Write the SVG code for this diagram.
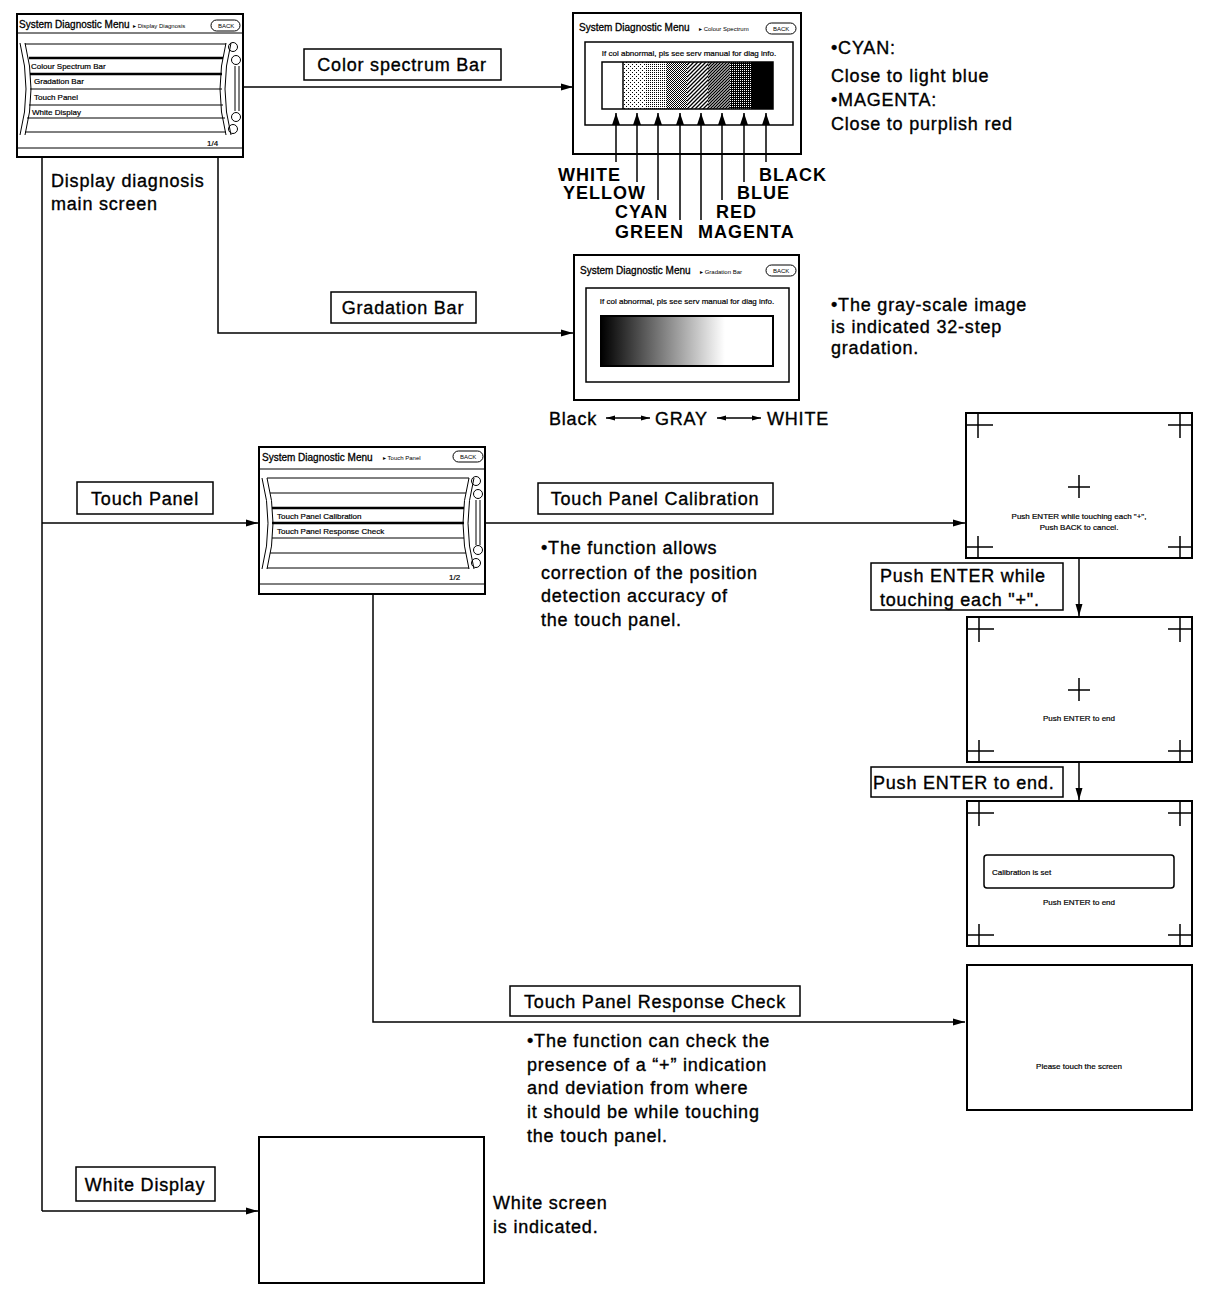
<svg xmlns="http://www.w3.org/2000/svg" width="1216" height="1298" viewBox="0 0 1216 1298">
<style>
.t{font-family:"Liberation Sans",Arial,sans-serif;font-size:18px;letter-spacing:0.8px;fill:#000;stroke:#000;stroke-width:0.35px}
.b{font-family:"Liberation Sans",Arial,sans-serif;font-size:18px;font-weight:bold;letter-spacing:1px;fill:#000}
.s{font-family:"Liberation Sans",Arial,sans-serif;font-size:8px;fill:#000;stroke:#000;stroke-width:0.2px}
.ttl{font-family:"Liberation Sans",Arial,sans-serif;font-size:10px;fill:#000;stroke:#000;stroke-width:0.3px}
.tiny{font-family:"Liberation Sans",Arial,sans-serif;font-size:6px;fill:#000}
.box{fill:#fff;stroke:#000;stroke-width:1.5}
.scr{fill:#fff;stroke:#000;stroke-width:2}
.ln{stroke:#000;stroke-width:1.5;fill:none}
.thin{stroke:#000;stroke-width:1;fill:none}
.thick{stroke:#000;stroke-width:2.5;fill:none}
.cr{stroke:#000;stroke-width:1.5}
</style>
<defs>
<marker id="ah" markerWidth="12" markerHeight="8" refX="12" refY="4" orient="auto" markerUnits="userSpaceOnUse"><path d="M0,0.5 L12,4 L0,7.5 Z" fill="#000"/></marker>
<marker id="up" markerWidth="12" markerHeight="8" refX="12" refY="4" orient="auto" markerUnits="userSpaceOnUse"><path d="M0,0 L12,4 L0,8 Z" fill="#000"/></marker>
<marker id="sm" markerWidth="9" markerHeight="6" refX="9" refY="3" orient="auto" markerUnits="userSpaceOnUse"><path d="M0,0.5 L9,3 L0,5.5 Z" fill="#000"/></marker>
<marker id="smr" markerWidth="9" markerHeight="6" refX="0" refY="3" orient="auto" markerUnits="userSpaceOnUse"><path d="M9,0.5 L0,3 L9,5.5 Z" fill="#000"/></marker>
<pattern id="p1" width="4" height="4" patternUnits="userSpaceOnUse"><rect width="4" height="4" fill="#fff"/><rect width="1" height="1" fill="#000"/><rect x="2" y="2" width="1" height="1" fill="#000"/></pattern>
<pattern id="p2" width="2" height="2" patternUnits="userSpaceOnUse"><rect width="2" height="2" fill="#fff"/><rect width="1" height="1" fill="#000"/></pattern>
<pattern id="p3" width="2" height="2" patternUnits="userSpaceOnUse"><rect width="2" height="2" fill="#fff"/><rect width="1" height="1" fill="#000"/><rect x="1" y="1" width="1" height="1" fill="#000"/></pattern>
<pattern id="p4" width="4" height="4" patternUnits="userSpaceOnUse"><rect width="4" height="4" fill="#fff"/><path d="M-1,1 L1,-1 M0,4 L4,0 M3,5 L5,3" stroke="#000" stroke-width="1.3"/></pattern>
<pattern id="p5" width="3" height="3" patternUnits="userSpaceOnUse"><rect width="3" height="3" fill="#fff"/><path d="M-1,1 L1,-1 M0,3 L3,0 M2,4 L4,2" stroke="#000" stroke-width="1.3"/></pattern>
<pattern id="p6" width="2" height="2" patternUnits="userSpaceOnUse"><rect width="2" height="2" fill="#000"/><rect width="1" height="1" fill="#fff"/></pattern>
<linearGradient id="gr" x1="0" y1="0" x2="1" y2="0"><stop offset="0" stop-color="#000"/><stop offset="0.05" stop-color="#111"/><stop offset="0.72" stop-color="#fff"/><stop offset="1" stop-color="#fff"/></linearGradient>
</defs>

<g id="main-screen">
<rect class="scr" x="17" y="14" width="226" height="143"/>
<text class="ttl" x="19" y="28">System Diagnostic Menu</text>
<text class="tiny" x="133" y="28">▸ Display Diagnosis</text>
<rect class="thin" x="211" y="20" width="29" height="11" rx="5.5"/>
<text class="tiny" x="218" y="28" font-size="5">BACK</text>
<line class="thin" x1="17" y1="33" x2="243" y2="33"/>
<path class="thin" d="M20,43 Q32,89 20,135 M25,43 Q37,89 25,135 M231,43 Q219,89 231,135 M226,43 Q214,89 226,135"/>
<path class="thin" d="M25,44 L226,44 M30,89 L222,89 M29,105 L223,105 M27,118 L225,118 M25,132 L226,132"/>
<path class="thick" d="M29,58 L223,58 M30,74 L222,74"/>
<text class="s" x="31" y="69">Colour Spectrum Bar</text>
<text class="s" x="34" y="84">Gradation Bar</text>
<text class="s" x="34" y="100">Touch Panel</text>
<text class="s" x="32" y="115">White Display</text>
<circle class="thin" cx="233" cy="47" r="4.5"/>
<circle class="thin" cx="236" cy="60" r="4.5"/>
<circle class="thin" cx="236" cy="117" r="4.5"/>
<circle class="thin" cx="233" cy="129" r="4.5"/>
<path class="thin" d="M235,66 L235,111 M239,66 L239,111"/>
<text class="s" x="207" y="146">1/4</text>
<line class="thin" x1="17" y1="148" x2="243" y2="148"/>
</g>

<g id="color-spectrum-screen">
<rect class="scr" x="573" y="13" width="228" height="141"/>
<text class="ttl" x="579" y="31">System Diagnostic Menu</text>
<text class="tiny" x="699" y="31">▸ Colour Spectrum</text>
<rect class="thin" x="766" y="23" width="30" height="11" rx="5.5"/>
<text class="tiny" x="773" y="31" font-size="5">BACK</text>
<rect class="ln" x="585" y="42" width="208" height="83" stroke-width="2"/>
<text class="s" x="689" y="56" text-anchor="middle">If col abnormal, pls see serv manual for diag info.</text>
<rect x="602" y="62" width="21" height="47" fill="#fff"/>
<rect x="623" y="62" width="22" height="47" fill="url(#p1)"/>
<rect x="645" y="62" width="21" height="47" fill="url(#p2)"/>
<rect x="666" y="62" width="21" height="47" fill="url(#p3)"/>
<rect x="687" y="62" width="21" height="47" fill="url(#p4)"/>
<rect x="708" y="62" width="22" height="47" fill="url(#p5)"/>
<rect x="730" y="62" width="22" height="47" fill="url(#p6)"/>
<rect x="752" y="62" width="21" height="47" fill="#000"/>
<rect class="ln" x="602" y="62" width="171" height="47" stroke-width="2"/>
<line class="ln" x1="623" y1="62" x2="623" y2="109"/>
</g>

<g id="color-labels">
<text class="b" x="558" y="181">WHITE</text>
<text class="b" x="563" y="199">YELLOW</text>
<text class="b" x="615" y="218">CYAN</text>
<text class="b" x="615" y="238">GREEN</text>
<text class="b" x="698" y="238">MAGENTA</text>
<text class="b" x="716" y="218">RED</text>
<text class="b" x="737" y="199">BLUE</text>
<text class="b" x="759" y="181">BLACK</text>
<text class="t" x="831" y="54">•CYAN:</text>
<text class="t" x="831" y="82">Close to light blue</text>
<text class="t" x="831" y="106">•MAGENTA:</text>
<text class="t" x="831" y="130">Close to purplish red</text>
</g>

<g id="display-main-label">
<text class="t" x="51" y="187">Display diagnosis</text>
<text class="t" x="51" y="210">main screen</text>
</g>

<g id="gradation-screen">
<rect class="scr" x="574" y="255" width="225" height="145"/>
<text class="ttl" x="580" y="274">System Diagnostic Menu</text>
<text class="tiny" x="700" y="274">▸ Gradation Bar</text>
<rect class="thin" x="766" y="265" width="30" height="11" rx="5.5"/>
<text class="tiny" x="773" y="273" font-size="5">BACK</text>
<rect class="ln" x="586" y="288" width="203" height="94" stroke-width="2"/>
<text class="s" x="687" y="304" text-anchor="middle">If col abnormal, pls see serv manual for diag info.</text>
<rect x="601" y="316" width="172" height="50" fill="url(#gr)" stroke="#000" stroke-width="2"/>
<text class="t" x="549" y="425">Black</text>
<text class="t" x="655" y="425">GRAY</text>
<text class="t" x="767" y="425">WHITE</text>
<text class="t" x="831" y="311">•The gray-scale image</text>
<text class="t" x="831" y="333">is indicated 32-step</text>
<text class="t" x="831" y="354">gradation.</text>
</g>

<g id="touch-panel-screen">
<rect class="scr" x="259" y="447" width="226" height="147"/>
<text class="ttl" x="262" y="461">System Diagnostic Menu</text>
<text class="tiny" x="383" y="460">▸ Touch Panel</text>
<rect class="thin" x="453" y="451" width="30" height="11" rx="5.5"/>
<text class="tiny" x="460" y="459" font-size="5">BACK</text>
<line class="thin" x1="259" y1="469" x2="485" y2="469"/>
<path class="thin" d="M262,478 Q274,523 262,569 M267,478 Q279,523 267,569 M474,478 Q462,523 474,569 M469,478 Q457,523 469,569"/>
<path class="thin" d="M267,478 L469,478 M270,493 L466,493 M272,538 L464,538 M270,553 L466,553 M267,568 L469,568"/>
<path class="thick" d="M272,508 L464,508 M272,523 L464,523"/>
<text class="s" x="277" y="519">Touch Panel Calibration</text>
<text class="s" x="277" y="534">Touch Panel Response Check</text>
<circle class="thin" cx="476" cy="481" r="4.5"/>
<circle class="thin" cx="478" cy="494" r="4.5"/>
<circle class="thin" cx="478" cy="550" r="4.5"/>
<circle class="thin" cx="476" cy="563" r="4.5"/>
<path class="thin" d="M476,500 L476,545 M480,500 L480,545"/>
<text class="s" x="449" y="580">1/2</text>
<line class="thin" x1="259" y1="584" x2="485" y2="584"/>
</g>

<g id="calib-screen-1">
<rect class="scr" x="966" y="413" width="226" height="145"/>
<path class="cr" d="M966,425 H993 M978,413 V438 M1192,425 H1168 M1180,413 V438 M966,547 H993 M978,536 V558 M1192,547 H1168 M1180,536 V558"/>
<path class="cr" stroke-width="2" d="M1068,487 H1090 M1079,475 V498"/>
<text class="s" x="1079" y="519" text-anchor="middle">Push ENTER while touching each "+",</text>
<text class="s" x="1079" y="530" text-anchor="middle">Push BACK to cancel.</text>
</g>

<g id="calib-screen-2">
<rect class="scr" x="967" y="617" width="225" height="145"/>
<path class="cr" d="M967,629 H994 M979,617 V642 M1192,629 H1168 M1180,617 V642 M967,751 H994 M979,740 V762 M1192,751 H1168 M1180,740 V762"/>
<path class="cr" stroke-width="2" d="M1068,690 H1090 M1079,678 V701"/>
<text class="s" x="1079" y="721" text-anchor="middle">Push ENTER to end</text>
</g>

<g id="calib-screen-3">
<rect class="scr" x="967" y="801" width="225" height="145"/>
<path class="cr" d="M967,813 H994 M979,801 V826 M1192,813 H1168 M1180,801 V826 M967,935 H994 M979,924 V946 M1192,935 H1168 M1180,924 V946"/>
<rect class="ln" x="984" y="855" width="190" height="33" rx="3"/>
<text class="s" x="992" y="875">Calibration is set</text>
<text class="s" x="1079" y="905" text-anchor="middle">Push ENTER to end</text>
</g>

<g id="response-screen">
<rect class="scr" x="967" y="965" width="225" height="145"/>
<text class="s" x="1079" y="1069" text-anchor="middle">Please touch the screen</text>
</g>

<g id="white-screen">
<rect class="scr" x="259" y="1137" width="225" height="146"/>
<text class="t" x="493" y="1209">White screen</text>
<text class="t" x="493" y="1233">is indicated.</text>
</g>

<g id="labels">
<rect class="box" x="304" y="49" width="197" height="31"/>
<text class="t" x="402" y="71" text-anchor="middle">Color spectrum Bar</text>
<rect class="box" x="331" y="292" width="145" height="31"/>
<text class="t" x="403" y="314" text-anchor="middle">Gradation Bar</text>
<rect class="box" x="77" y="482" width="136" height="32"/>
<text class="t" x="145" y="505" text-anchor="middle">Touch Panel</text>
<rect class="box" x="538" y="483" width="235" height="31"/>
<text class="t" x="655" y="505" text-anchor="middle">Touch Panel Calibration</text>
<rect class="box" x="510" y="986" width="290" height="30"/>
<text class="t" x="655" y="1008" text-anchor="middle">Touch Panel Response Check</text>
<rect class="box" x="76" y="1167" width="139" height="34"/>
<text class="t" x="145" y="1191" text-anchor="middle">White Display</text>
<rect class="box" x="871" y="563" width="192" height="47"/>
<text class="t" x="880" y="582">Push ENTER while</text>
<text class="t" x="880" y="606">touching each  "+".</text>
<rect class="box" x="871" y="767" width="192" height="30"/>
<text class="t" x="873" y="789">Push ENTER to end.</text>
<text class="t" x="541" y="554">•The function allows</text>
<text class="t" x="541" y="579">correction of the position</text>
<text class="t" x="541" y="602">detection accuracy of</text>
<text class="t" x="541" y="626">the touch panel.</text>
<text class="t" x="527" y="1047">•The function can check the</text>
<text class="t" x="527" y="1071">presence of a “+” indication</text>
<text class="t" x="527" y="1094">and deviation from where</text>
<text class="t" x="527" y="1118">it should be while touching</text>
<text class="t" x="527" y="1142">the touch panel.</text>
</g>

<g id="connectors">
<line class="ln" x1="243" y1="87" x2="573" y2="87" marker-end="url(#ah)"/>
<polyline class="ln" points="218,157 218,333 573,333" marker-end="url(#ah)"/>
<line class="ln" x1="42" y1="157" x2="42" y2="1211"/>
<line class="ln" x1="42" y1="523" x2="258" y2="523" marker-end="url(#ah)"/>
<line class="ln" x1="42" y1="1211" x2="258" y2="1211" marker-end="url(#ah)"/>
<line class="ln" x1="485" y1="523" x2="965" y2="523" marker-end="url(#ah)"/>
<polyline class="ln" points="373,594 373,1022 965,1022" marker-end="url(#ah)"/>
<line class="ln" x1="1079" y1="558" x2="1079" y2="616" stroke-width="2" marker-end="url(#ah)"/>
<line class="ln" x1="1079" y1="762" x2="1079" y2="800" stroke-width="2" marker-end="url(#ah)"/>
<line class="ln" x1="616" y1="162" x2="616" y2="113" marker-end="url(#up)"/>
<line class="ln" x1="637" y1="182" x2="637" y2="113" marker-end="url(#up)"/>
<line class="ln" x1="658" y1="200" x2="658" y2="113" marker-end="url(#up)"/>
<line class="ln" x1="680" y1="220" x2="680" y2="113" marker-end="url(#up)"/>
<line class="ln" x1="701" y1="220" x2="701" y2="113" marker-end="url(#up)"/>
<line class="ln" x1="722" y1="200" x2="722" y2="113" marker-end="url(#up)"/>
<line class="ln" x1="744" y1="182" x2="744" y2="113" marker-end="url(#up)"/>
<line class="ln" x1="766" y1="162" x2="766" y2="113" marker-end="url(#up)"/>
<line class="ln" x1="606" y1="418" x2="650" y2="418" marker-start="url(#smr)" marker-end="url(#sm)"/>
<line class="ln" x1="717" y1="418" x2="761" y2="418" marker-start="url(#smr)" marker-end="url(#sm)"/>
</g>
</svg>
